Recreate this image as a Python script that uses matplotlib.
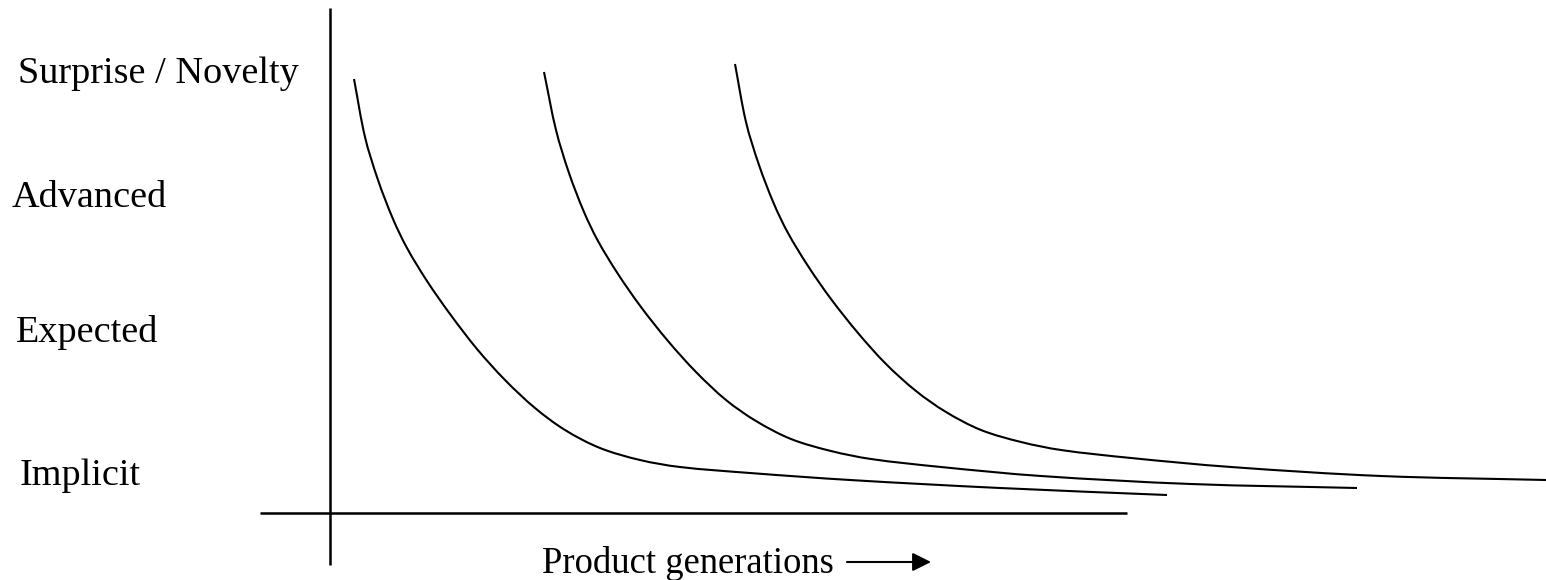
import numpy as np
import matplotlib.pyplot as plt
from matplotlib.path import Path
from matplotlib.patches import PathPatch

# ---------------------------------------------------------
# Data: three generation curves
# (x to the right, y measured downward from the top edge)
# ---------------------------------------------------------
gen1_x = [354, 365, 378, 393, 407, 427, 450, 477, 505, 535, 565, 600, 640, 680, 750, 850, 1000, 1167]
gen1_y = [79, 137, 180, 219, 248, 281, 314, 349, 380, 408, 430, 448, 460, 467, 473, 480, 488, 495]

gen2_x = [544, 556, 569, 584, 598, 618, 641, 668, 696, 726, 756, 791, 831, 871, 941, 1041, 1191, 1357]
gen2_y = [72, 130, 173, 212, 241, 274, 307, 341, 372, 400, 421, 439, 451, 459, 467, 476, 484, 488]

gen3_x = [735, 746, 759, 774, 788, 808, 831, 858, 886, 916, 946, 981, 1021, 1061, 1131, 1231, 1381, 1546]
gen3_y = [64, 122, 165, 204, 233, 266, 299, 333, 364, 391, 412, 430, 442, 450, 458, 467, 476, 480]

level_labels = ["Surprise / Novelty", "Advanced", "Expected", "Implicit"]
level_label_x = [18, 12, 16, 20]
level_label_y = [83, 207, 342, 485]

x_label = "Product generations"

FONT = "Liberation Serif"


def smooth_path(xs, ys):
    # chord-length Catmull-Rom through the read points, as cubic Beziers
    pts = np.column_stack([xs, ys]).astype(float)
    t = np.concatenate([[0], np.cumsum(np.hypot(*np.diff(pts, axis=0).T))])
    tang = np.zeros_like(pts)
    tang[1:-1] = (pts[2:] - pts[:-2]) / (t[2:] - t[:-2])[:, None]
    tang[0] = (pts[1] - pts[0]) / (t[1] - t[0])
    tang[-1] = (pts[-1] - pts[-2]) / (t[-1] - t[-2])
    verts = [pts[0]]
    codes = [Path.MOVETO]
    for i in range(len(pts) - 1):
        h = t[i + 1] - t[i]
        verts += [pts[i] + tang[i] * h / 3, pts[i + 1] - tang[i + 1] * h / 3, pts[i + 1]]
        codes += [Path.CURVE4] * 3
    return Path(verts, codes)


def main():
    fig = plt.figure(figsize=(15.46, 5.8), dpi=100)
    ax = fig.add_axes([0, 0, 1, 1])
    ax.set_xlim(0, 1546)
    ax.set_ylim(580, 0)
    ax.axis('off')

    # axes drawn as plain lines
    ax.plot([330, 330], [8, 565], color='black', lw=1.8, solid_capstyle='butt')
    ax.plot([260, 1127], [513, 513], color='black', lw=1.8, solid_capstyle='butt')

    for xs, ys in [(gen1_x, gen1_y), (gen2_x, gen2_y), (gen3_x, gen3_y)]:
        ax.add_patch(PathPatch(smooth_path(xs, ys), facecolor='none',
                               edgecolor='black', lw=1.5, capstyle='butt'))

    for label, lx, ly in zip(level_labels, level_label_x, level_label_y):
        ax.text(lx, ly, label, fontsize=27.5, family=FONT, ha='left', va='baseline')

    ax.text(542, 573, x_label, fontsize=26.4, family=FONT, ha='left', va='baseline')
    ax.annotate('', xy=(931, 562), xytext=(847, 562),
                arrowprops=dict(arrowstyle='-|>', color='black', lw=1.5,
                                mutation_scale=28, shrinkA=0, shrinkB=0))

    fig.savefig('out.png', dpi=100)
    plt.close(fig)


if __name__ == "__main__":
    main()
